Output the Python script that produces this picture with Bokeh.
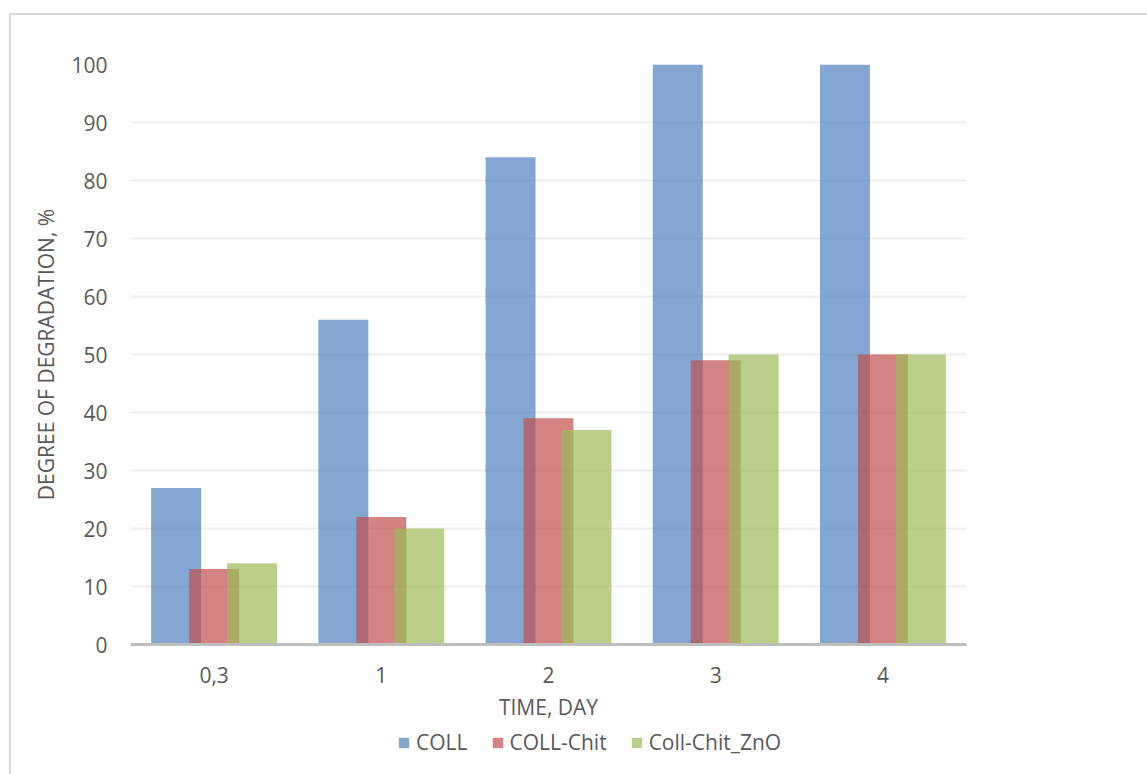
from bokeh.plotting import figure
from bokeh.layouts import column
from bokeh.models import (ColumnDataSource, FactorRange, Range1d, Legend, LegendItem,
                          SingleIntervalTicker)
from bokeh.transform import dodge
from bokeh.embed import file_html
from bokeh.resources import INLINE

days = ["0,3", "1", "2", "3", "4"]
coll = [27, 56, 84, 100, 100]
coll_chit = [13, 22, 39, 49, 50]
coll_chit_zno = [14, 20, 37, 50, 50]
series_names = ["COLL", "COLL-Chit", "Coll-Chit_ZnO"]
colors = ["#4F81BD", "#C0504D", "#9BBB59"]

FONT = "Open Sans"
TXT = "#595959"
FS = "21px"

src = ColumnDataSource(dict(days=days, coll=coll, coll_chit=coll_chit, coll_chit_zno=coll_chit_zno))

# whole layout offset by margin (9,13) + 2px border -> canvas origin at (11,15)
p = figure(width=1136, height=712, x_range=FactorRange(*days, range_padding=0),
           y_range=Range1d(0, 100), output_backend="svg", toolbar_location=None,
           min_border_left=119, min_border_right=181, min_border_top=49, min_border_bottom=83)
p.outline_line_color = None
p.background_fill_color = "white"
p.border_fill_color = "white"

bw = 0.299
off = 0.227
for key, col, d in zip(["coll", "coll_chit", "coll_chit_zno"], colors, [-off, 0, off]):
    p.vbar(x=dodge("days", d, range=p.x_range), top=key, width=bw, source=src,
           fill_color=col, fill_alpha=0.7, line_color=None)

# axes
p.yaxis.ticker = SingleIntervalTicker(interval=10)
p.yaxis.axis_line_color = None
p.yaxis.major_tick_line_color = None
p.yaxis.minor_tick_line_color = None
p.yaxis.major_label_standoff = 17
p.yaxis.major_label_text_font = FONT
p.yaxis.major_label_text_font_size = FS
p.yaxis.major_label_text_color = TXT
p.yaxis.axis_label = "DEGREE OF DEGRADATION, %"
p.yaxis.axis_label_text_font = FONT
p.yaxis.axis_label_text_font_size = FS
p.yaxis.axis_label_text_font_style = "normal"
p.yaxis.axis_label_text_color = TXT
p.yaxis.axis_label_standoff = 8

p.xaxis.axis_line_color = "#BFBFBF"
p.xaxis.axis_line_width = 3
p.xaxis.major_tick_line_color = None
p.xaxis.minor_tick_line_color = None
p.xaxis.major_label_standoff = 16
p.xaxis.major_label_text_font = FONT
p.xaxis.major_label_text_font_size = FS
p.xaxis.major_label_text_color = TXT
p.xaxis.axis_label = "TIME, DAY"
p.xaxis.axis_label_text_font = FONT
p.xaxis.axis_label_text_font_size = FS
p.xaxis.axis_label_text_font_style = "normal"
p.xaxis.axis_label_text_color = TXT
p.xaxis.axis_label_standoff = 7

p.xgrid.grid_line_color = None
p.ygrid.grid_line_color = "#EEEEEE"
p.ygrid.grid_line_width = 2

# legend strip (its frame is aligned with the chart frame by the column layout)
pl = figure(width=1136, height=47, x_range=Range1d(0, 1), y_range=Range1d(0, 1),
            x_axis_type=None, y_axis_type=None, output_backend="svg", toolbar_location=None,
            min_border=0)
pl.outline_line_color = None
pl.border_fill_color = "white"
items = []
for name, col in zip(series_names, colors):
    # swatch source only: a zero-height bar outside the visible range
    r = pl.vbar(x=[-10], top=[0], width=0.1, fill_color=col, fill_alpha=0.7, line_color=None)
    items.append(LegendItem(label=name, renderers=[r]))

legend = Legend(items=items, orientation="horizontal", location=(267, 18),
                glyph_width=13, glyph_height=13, label_standoff=6, spacing=23,
                padding=0, margin=0, border_line_color=None, background_fill_alpha=0,
                label_text_font=FONT, label_text_font_size=FS, label_text_color=TXT,
                label_height=20)
pl.add_layout(legend, "center")

root = column(p, pl, spacing=0)
root.margin = (13, 0, 0, 9)
root.styles = {"border-top": "2px solid #D9D9D9", "border-left": "2px solid #D9D9D9"}

open("out.html", "w").write(file_html(root, INLINE))
